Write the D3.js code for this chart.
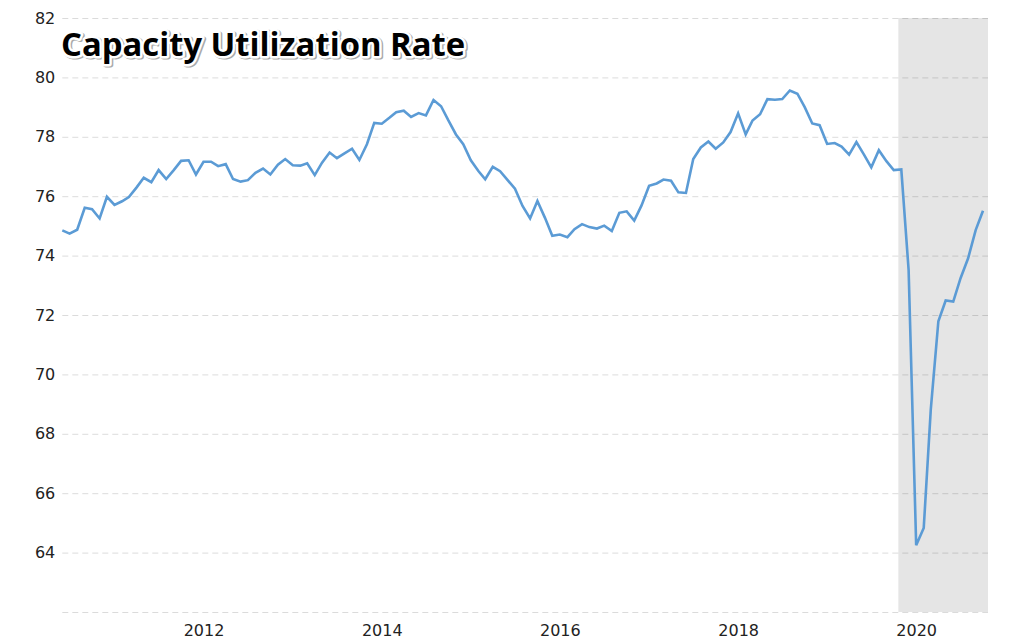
<!DOCTYPE html>
<html>
<head>
<meta charset="utf-8">
<script src="https://cdn.jsdelivr.net/npm/d3@7"></script>
<style>
  html, body { margin: 0; padding: 0; background: #fff; }
  svg { display: block; }
</style>
</head>
<body>
<svg id="chart" width="1023" height="642"></svg>
<script>
// ---- data (monthly) ----
const firstMonth = "2010-06";
const lastMonth = "2020-10";
const utilization = [
  74.85, 74.74, 74.87, 75.61, 75.56, 75.25, 75.98, 75.71, 75.83, 75.97,
  76.29, 76.62, 76.47, 76.88, 76.58, 76.88, 77.19, 77.21, 76.73, 77.16,
  77.16, 77.01, 77.08, 76.58, 76.49, 76.54, 76.79, 76.93, 76.73, 77.06,
  77.25, 77.04, 77.03, 77.11, 76.71, 77.13, 77.47, 77.28, 77.44, 77.60,
  77.22, 77.75, 78.47, 78.44, 78.64, 78.83, 78.88, 78.67, 78.80, 78.72,
  79.24, 79.03, 78.55, 78.08, 77.75, 77.21, 76.85, 76.57, 76.99, 76.84,
  76.54, 76.25, 75.67, 75.25, 75.84, 75.27, 74.67, 74.71, 74.62, 74.89,
  75.06, 74.96, 74.91, 75.01, 74.83, 75.44, 75.49, 75.18, 75.69, 76.35,
  76.43, 76.56, 76.52, 76.13, 76.11, 77.25, 77.64, 77.84, 77.60, 77.81,
  78.16, 78.79, 78.08, 78.55, 78.76, 79.27, 79.25, 79.27, 79.56, 79.45,
  79.00, 78.45, 78.39, 77.76, 77.79, 77.67, 77.40, 77.82, 77.40, 76.97,
  77.55, 77.18, 76.88, 76.90, 73.52, 64.25, 64.83, 68.83, 71.79, 72.49,
  72.45, 73.24, 73.91, 74.86, 75.51
];
const yTicks = [62, 64, 66, 68, 70, 72, 74, 76, 78, 80, 82];
const yTickLabels = ["", "64", "66", "68", "70", "72", "74", "76", "78", "80", "82"];
const xTickYears = ["2012", "2014", "2016", "2018", "2020"];
const shadeStart = "2019-10-20";
const titleText = "Capacity Utilization Rate";

// ---- setup ----
const parseMonth = d3.timeParse("%Y-%m");
const parseDay = d3.timeParse("%Y-%m-%d");
const parseYear = d3.timeParse("%Y");
const months = d3.timeMonth.range(parseMonth(firstMonth), d3.timeMonth.offset(parseMonth(lastMonth), 1));
const data = months.map((m, i) => ({ date: m, value: utilization[i] }));

const svg = d3.select("#chart");
const plotLeft = 62.3, lastX = 983, plotRight = 988, plotTop = 18, plotBottom = 612;

const x = d3.scaleTime()
  .domain([parseMonth(firstMonth), parseMonth(lastMonth)])
  .range([plotLeft, lastX]);
const y = d3.scaleLinear().domain([62, 82]).range([plotBottom, plotTop]);

// shaded recession region
svg.append("rect")
  .attr("x", x(parseDay(shadeStart)))
  .attr("y", plotTop)
  .attr("width", plotRight - x(parseDay(shadeStart)))
  .attr("height", plotBottom - plotTop)
  .attr("fill", "#e5e5e5");

// y grid + labels
const yAxis = svg.append("g")
  .attr("transform", `translate(${plotLeft},0)`)
  .call(d3.axisLeft(y)
    .tickValues(yTicks)
    .tickSize(-(plotRight - plotLeft))
    .tickPadding(7)
    .tickFormat((d, i) => yTickLabels[i]));
yAxis.select(".domain").remove();
yAxis.selectAll(".tick line")
  .attr("stroke", "#000")
  .attr("stroke-opacity", 0.14)
  .attr("stroke-dasharray", "6,4");
yAxis.selectAll(".tick text")
  .attr("fill", "#222")
  .attr("font-family", "DejaVu Sans, Verdana, sans-serif")
  .attr("font-size", 16);

// x axis labels
const xAxis = svg.append("g")
  .attr("transform", `translate(0,${plotBottom})`)
  .call(d3.axisBottom(x)
    .tickValues(xTickYears.map(parseYear))
    .tickSize(0)
    .tickPadding(13)
    .tickFormat(d3.timeFormat("%Y")));
xAxis.select(".domain").remove();
xAxis.selectAll(".tick text")
  .attr("fill", "#222")
  .attr("font-family", "DejaVu Sans, Verdana, sans-serif")
  .attr("font-size", 16);

// line
const line = d3.line().x(d => x(d.date)).y(d => y(d.value));
svg.append("path")
  .datum(data)
  .attr("fill", "none")
  .attr("stroke", "#5b9bd5")
  .attr("stroke-width", 2.6)
  .attr("d", line);

// title with halo + shadow
const tg = svg.append("g").attr("font-family", "Open Sans, Noto Sans, sans-serif")
  .attr("font-weight", "bold").attr("font-size", 32.8);
tg.append("text").attr("x", 62.5).attr("y", 57).text(titleText)
  .attr("fill", "#aaa").attr("stroke", "#aaa").attr("stroke-width", 5)
  .attr("stroke-linejoin", "round");
tg.append("text").attr("x", 61).attr("y", 55.5).text(titleText)
  .attr("fill", "#000").attr("stroke", "#fff").attr("stroke-width", 5)
  .attr("stroke-linejoin", "round").attr("paint-order", "stroke");
</script>
</body>
</html>
